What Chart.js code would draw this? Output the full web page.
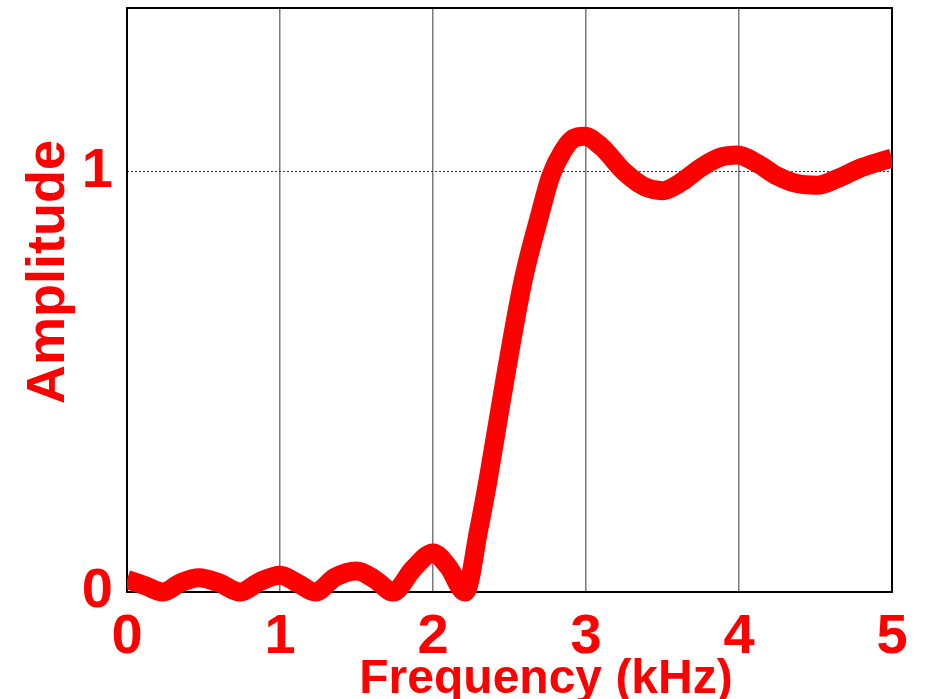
<!DOCTYPE html>
<html>
<head>
<meta charset="utf-8">
<script src="https://cdn.jsdelivr.net/npm/chart.js@4/dist/chart.umd.min.js"></script>
<style>
html,body{margin:0;padding:0;background:#fff;}
#wrap{width:926px;height:699px;position:relative;}
</style>
</head>
<body>
<div id="wrap"><canvas id="c" width="926" height="699"></canvas></div>
<script>
// Frequency (kHz) samples
const freqKHz = [0, 0.12, 0.235, 0.35, 0.47, 0.6, 0.74, 0.87, 1.0, 1.12, 1.23, 1.36, 1.5, 1.62, 1.74, 1.87, 2.0, 2.1, 2.21, 2.3, 2.36, 2.47, 2.59, 2.7, 2.77, 2.85, 2.92, 2.99, 3.1, 3.25, 3.38, 3.5, 3.62, 3.75, 3.88, 3.99, 4.12, 4.25, 4.38, 4.51, 4.65, 4.8, 5.0];
// Amplitude values
const amplitude = [0.03, 0.015, 0.0, 0.022, 0.034, 0.022, 0.0, 0.025, 0.04, 0.02, 0.0, 0.035, 0.05, 0.03, 0.0, 0.055, 0.093, 0.06, 0.0, 0.15, 0.267, 0.505, 0.743, 0.9, 0.99, 1.05, 1.08, 1.085, 1.06, 1.0, 0.965, 0.955, 0.975, 1.01, 1.035, 1.04, 1.02, 0.99, 0.972, 0.968, 0.985, 1.01, 1.033];
const xTickValues = [0, 1, 2, 3, 4, 5];
const yTickValues = [0, 1];
const xTitle = "Frequency (kHz)";
const yTitle = "Amplitude";

const RED = '#ff0000';
const tickFont = {family: '"Liberation Sans", Arial, sans-serif', size: 56, weight: 'bold'};

const boxPlugin = {
  id: 'box',
  beforeDatasetsDraw(chart) {
    const a = chart.chartArea, ctx = chart.ctx;
    ctx.save();
    ctx.strokeStyle = '#000';
    ctx.lineWidth = 2;
    ctx.strokeRect(a.left, a.top, a.right - a.left, a.bottom - a.top);
    ctx.restore();
  },
  afterDraw(chart) {
    const ctx = chart.ctx;
    ctx.save();
    ctx.fillStyle = RED;
    ctx.font = 'bold 48px "Liberation Sans", Arial, sans-serif';
    ctx.textAlign = 'center';
    ctx.textBaseline = 'alphabetic';
    ctx.fillText(xTitle, 546, 693);
    ctx.translate(64, 272);
    ctx.rotate(-Math.PI / 2);
    ctx.font = 'bold 54px "Liberation Sans", Arial, sans-serif';
    ctx.fillText(yTitle, 0, 0);
    ctx.restore();
  }
};

new Chart(document.getElementById('c'), {
  type: 'line',
  data: {
    datasets: [{
      data: freqKHz.map((f, i) => ({x: f, y: amplitude[i]})),
      borderColor: RED,
      borderWidth: 19,
      pointRadius: 0,
      fill: false,
      cubicInterpolationMode: 'monotone',
      borderCapStyle: 'butt',
      borderJoinStyle: 'round',
      clip: {left: 0, right: 0, top: 10, bottom: 12}
    }]
  },
  options: {
    responsive: false,
    animation: false,
    layout: {padding: {left: 0, right: 34, top: 8, bottom: 0}},
    plugins: {legend: {display: false}, tooltip: {enabled: false}, title: {display: false}},
    scales: {
      x: {
        type: 'linear', min: 0, max: 5,
        afterBuildTicks(s) { s.ticks = xTickValues.map(v => ({value: v})); },
        afterFit(s) { s.height = 107; s.paddingLeft = 0; s.paddingRight = 0; },
        border: {display: false},
        grid: {
          drawTicks: false,
          lineWidth: 1.5,
          color: c => (c.tick && c.tick.value > 0 && c.tick.value < 5) ? '#7a7a7a' : 'rgba(0,0,0,0)'
        },
        ticks: {color: RED, font: tickFont, padding: 12, maxRotation: 0, autoSkip: false}
      },
      y: {
        type: 'linear', min: 0, max: 1.39,
        afterBuildTicks(s) { s.ticks = yTickValues.map(v => ({value: v})); },
        afterFit(s) { s.width = 127; s.paddingTop = 0; s.paddingBottom = 0; },
        border: {display: false, dash: [2, 2]},
        grid: {
          drawTicks: false,
          lineWidth: 1,
          color: c => (c.tick && c.tick.value === 1) ? '#333' : 'rgba(0,0,0,0)'
        },
        ticks: {color: RED, font: tickFont, padding: 14, autoSkip: false}
      }
    }
  },
  plugins: [boxPlugin]
});
</script>
</body>
</html>
